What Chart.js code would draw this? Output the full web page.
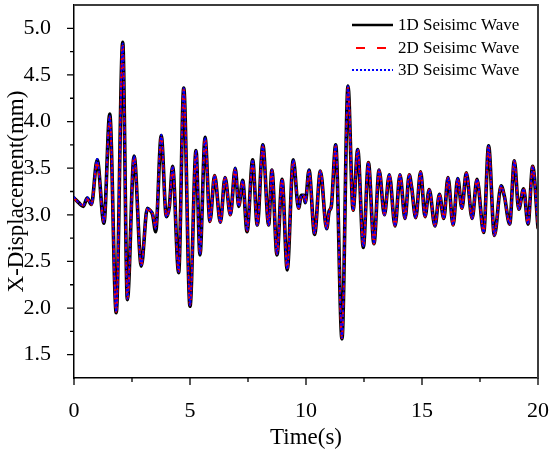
<!DOCTYPE html>
<html>
<head>
<meta charset="utf-8">
<script src="https://cdn.jsdelivr.net/npm/chart.js@4"></script>
<style>
  body { margin: 0; background: #fff; }
  #wrap { width: 550px; height: 459px; }
</style>
</head>
<body>
<div id="wrap"><canvas id="waveChart" width="550" height="459"></canvas></div>
<script>
// time (s) of each read peak / trough
const times = [0, 0.2, 0.4, 0.57, 0.75, 1.0, 1.29, 1.54, 1.82, 2.10, 2.30, 2.59, 2.90, 3.16, 3.27, 3.39, 3.52, 3.76, 3.98,
  4.11, 4.25, 4.51, 4.73, 5.0, 5.26, 5.43, 5.65, 5.86, 6.06, 6.31, 6.51, 6.74, 6.95, 7.10, 7.27, 7.46, 7.70, 7.90,
  8.14, 8.39, 8.53, 8.75, 8.97, 9.19, 9.45, 9.68, 9.80, 9.90, 9.97, 10.13, 10.37, 10.62, 10.89, 11.0, 11.09, 11.28,
  11.55, 11.81, 12.03, 12.23, 12.47, 12.69, 12.93, 13.15, 13.38, 13.59, 13.84, 14.05, 14.27, 14.45, 14.55, 14.73,
  14.94, 15.13, 15.31, 15.56, 15.75, 15.94, 16.12, 16.34, 16.54, 16.72, 16.91, 17.16, 17.37, 17.66, 17.87, 18.12,
  18.41, 18.55, 18.78, 18.98, 19.17, 19.38, 19.57, 19.77, 20.0];

// X-displacement (mm)
const disp1D = [3.18, 3.13, 3.09, 3.18, 3.11, 3.59, 2.91, 4.08, 1.95, 4.85, 2.09, 3.63, 2.45, 3.07, 3.05, 3.00, 2.82, 3.85, 2.98,
  3.09, 3.52, 2.38, 4.36, 2.02, 3.69, 2.57, 3.83, 2.93, 3.42, 2.92, 3.40, 3.00, 3.50, 3.09, 3.37, 2.82, 3.59, 2.89,
  3.75, 2.89, 3.48, 2.57, 3.38, 2.41, 3.59, 3.07, 3.21, 3.21, 3.13, 3.48, 2.79, 3.47, 2.85, 3.04, 3.09, 3.75,
  1.67, 4.38, 3.05, 3.70, 2.65, 3.56, 2.69, 3.48, 3.00, 3.43, 2.88, 3.43, 2.96, 3.43, 3.30, 2.97,
  3.46, 2.98, 3.27, 2.88, 3.22, 2.96, 3.40, 2.89, 3.39, 3.07, 3.45, 2.96, 3.38, 2.81, 3.74, 2.78,
  3.31, 3.20, 2.90, 3.58, 3.06, 3.28, 2.90, 3.52, 2.86];
const disp2D = [3.18, 3.13, 3.10, 3.17, 3.11, 3.57, 2.92, 4.05, 1.96, 4.83, 2.10, 3.62, 2.46, 3.06, 3.05, 3.01, 2.86, 3.84, 2.98,
  3.09, 3.51, 2.39, 4.35, 2.03, 3.68, 2.58, 3.82, 2.93, 3.42, 2.92, 3.40, 3.00, 3.49, 3.09, 3.37, 2.83, 3.58, 2.89,
  3.74, 2.89, 3.48, 2.58, 3.38, 2.42, 3.58, 3.07, 3.21, 3.21, 3.13, 3.47, 2.80, 3.47, 2.85, 3.04, 3.09, 3.74,
  1.68, 4.37, 3.05, 3.70, 2.66, 3.56, 2.69, 3.48, 3.00, 3.43, 2.88, 3.43, 2.96, 3.43, 3.30, 2.97,
  3.46, 2.98, 3.27, 2.88, 3.22, 2.96, 3.40, 2.89, 3.39, 3.07, 3.45, 2.96, 3.38, 2.81, 3.73, 2.78,
  3.31, 3.20, 2.90, 3.58, 3.06, 3.28, 2.90, 3.52, 2.86];
const disp3D = [3.19, 3.13, 3.10, 3.19, 3.11, 3.60, 2.92, 4.06, 1.96, 4.84, 2.10, 3.63, 2.46, 3.07, 3.05, 3.01, 2.85, 3.86, 2.98,
  3.09, 3.52, 2.39, 4.36, 2.03, 3.69, 2.58, 3.83, 2.93, 3.42, 2.92, 3.40, 3.00, 3.50, 3.09, 3.37, 2.83, 3.59, 2.89,
  3.75, 2.89, 3.48, 2.58, 3.38, 2.42, 3.59, 3.07, 3.21, 3.21, 3.13, 3.48, 2.80, 3.47, 2.85, 3.04, 3.09, 3.75,
  1.68, 4.38, 3.05, 3.70, 2.66, 3.56, 2.69, 3.48, 3.00, 3.43, 2.88, 3.43, 2.96, 3.43, 3.30, 2.97,
  3.46, 2.98, 3.27, 2.88, 3.22, 2.96, 3.40, 2.89, 3.39, 3.07, 3.45, 2.96, 3.38, 2.81, 3.74, 2.78,
  3.31, 3.20, 2.90, 3.58, 3.06, 3.28, 2.90, 3.52, 2.86];

const seriesNames = ['1D Seisimc Wave', '2D Seisimc Wave', '3D Seisimc Wave'];
const xTicks = [0, 5, 10, 15, 20];
const yTicks = [1.5, 2.0, 2.5, 3.0, 3.5, 4.0, 4.5, 5.0];

const serif = "'Liberation Serif', 'Times New Roman', serif";

function toPoints(vals) {
  return times.map((t, i) => ({ x: t, y: vals[i] }));
}

// ticks (major + minor, outward), the top/right frame and the in-plot legend
const framePlugin = {
  id: 'frame',
  afterDraw(chart) {
    const ctx = chart.ctx;
    const a = chart.chartArea;
    const xs = chart.scales.x, ys = chart.scales.y;
    ctx.save();
    ctx.setLineDash([]);
    ctx.strokeStyle = '#000';
    ctx.lineWidth = 1.3;
    ctx.beginPath();
    for (let v = 0; v <= 20; v += 2.5) {
      const px = xs.getPixelForValue(v);
      const len = v % 5 === 0 ? 7 : 4;
      ctx.moveTo(px, a.bottom);
      ctx.lineTo(px, a.bottom + len);
    }
    for (let v = 1.5; v <= 5.0001; v += 0.25) {
      const py = ys.getPixelForValue(v);
      const len = Math.abs(v * 2 - Math.round(v * 2)) < 0.01 ? 7 : 4;
      ctx.moveTo(a.left, py);
      ctx.lineTo(a.left - len, py);
    }
    ctx.stroke();

    ctx.strokeStyle = '#3c3c3c';
    ctx.lineWidth = 2;
    ctx.beginPath();
    ctx.moveTo(a.left, a.top);
    ctx.lineTo(a.right, a.top);
    ctx.lineTo(a.right, a.bottom);
    ctx.stroke();

    // legend
    const rows = [25, 48, 70];
    ctx.font = '17px ' + serif;
    ctx.textBaseline = 'middle';
    ctx.textAlign = 'left';
    ctx.fillStyle = '#000';
    chart.data.datasets.forEach((ds, i) => {
      ctx.strokeStyle = ds.borderColor;
      ctx.lineWidth = i === 0 ? 2.5 : 2;
      ctx.setLineDash(i === 1 ? [9, 12] : (i === 2 ? [2, 2] : []));
      ctx.beginPath();
      ctx.moveTo(i === 1 ? 356 : 352, rows[i]);
      ctx.lineTo(393, rows[i]);
      ctx.stroke();
      ctx.setLineDash([]);
      ctx.fillText(ds.label, 398, rows[i] + 1);
    });
    ctx.restore();
  }
};

const ctx = document.getElementById('waveChart').getContext('2d');
new Chart(ctx, {
  type: 'line',
  data: {
    datasets: [
      { label: seriesNames[0], data: toPoints(disp1D), borderColor: '#000000', borderWidth: 3.6, order: 3 },
      { label: seriesNames[1], data: toPoints(disp2D), borderColor: '#ff0000', borderWidth: 2.2, borderDash: [5, 4], order: 2 },
      { label: seriesNames[2], data: toPoints(disp3D), borderColor: '#0000ff', borderWidth: 1.7, borderDash: [1.5, 3], order: 1 }
    ]
  },
  options: {
    responsive: false,
    animation: false,
    layout: { padding: { top: 5, right: 12, left: 0, bottom: 0 } },
    plugins: { legend: { display: false }, tooltip: { enabled: false } },
    elements: { point: { radius: 0 }, line: { cubicInterpolationMode: 'monotone', borderCapStyle: 'round' } },
    scales: {
      x: {
        type: 'linear',
        min: 0, max: 20,
        afterFit(scale) { scale.height = 81; scale.paddingLeft = 0; scale.paddingRight = 0; },
        afterBuildTicks(scale) { scale.ticks = xTicks.map(v => ({ value: v })); },
        grid: { display: false },
        border: { color: '#000', width: 1.5 },
        ticks: { color: '#000', padding: 12, font: { family: serif, size: 22 }, maxRotation: 0 },
        title: { display: true, text: 'Time(s)', color: '#000', font: { family: serif, size: 23 }, padding: { bottom: 7 } }
      },
      y: {
        type: 'linear',
        min: 1.25, max: 5.25,
        afterFit(scale) { scale.width = 74; scale.paddingTop = 0; scale.paddingBottom = 0; },
        afterBuildTicks(scale) { scale.ticks = yTicks.map(v => ({ value: v })); },
        grid: { display: false },
        border: { color: '#000', width: 1.5 },
        ticks: { color: '#000', padding: 15, font: { family: serif, size: 22 }, callback: v => v.toFixed(1) },
        title: { display: true, text: 'X-Displacement(mm)', color: '#000', font: { family: serif, size: 23 }, padding: { top: 3 } }
      }
    }
  },
  plugins: [framePlugin]
});
</script>
</body>
</html>
